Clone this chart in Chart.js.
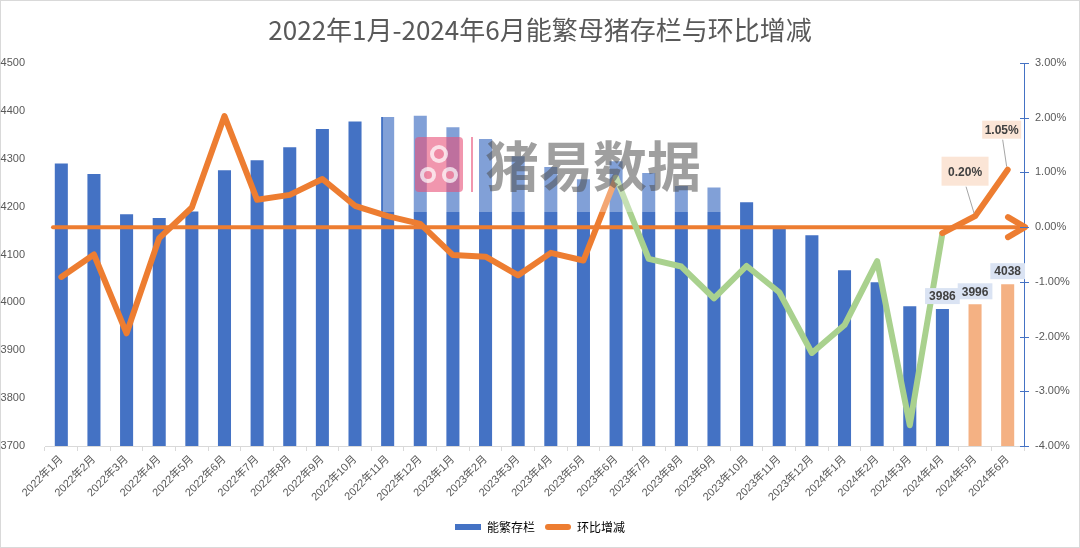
<!DOCTYPE html>
<html>
<head>
<meta charset="utf-8">
<title>能繁母猪存栏与环比增减</title>
<script src="https://cdn.jsdelivr.net/npm/chart.js@4.4.1/dist/chart.umd.min.js"></script>
<style>
  html, body { margin: 0; padding: 0; background: #fff; }
  #wrap { width: 1080px; height: 548px; }
</style>
</head>
<body>
<div id="wrap"><canvas id="chart" width="1080" height="548"></canvas></div>
<script>
// data
const months = [
    '2022年1月', '2022年2月', '2022年3月', '2022年4月', '2022年5月', '2022年6月',
    '2022年7月', '2022年8月', '2022年9月', '2022年10月', '2022年11月', '2022年12月',
    '2023年1月', '2023年2月', '2023年3月', '2023年4月', '2023年5月', '2023年6月',
    '2023年7月', '2023年8月', '2023年9月', '2023年10月', '2023年11月', '2023年12月',
    '2024年1月', '2024年2月', '2024年3月', '2024年4月', '2024年5月', '2024年6月'
];
const stock = [
    4290, 4268, 4184, 4176, 4190, 4276, 4297, 4324, 4362, 4378, 4387, 4390,
    4366, 4341, 4305, 4283, 4257, 4295, 4270, 4243, 4240, 4209, 4155, 4140,
    4067, 4042, 3992, 3986, 3996, 4038
];
const momChange = [
    -0.91, -0.50, -1.94, -0.20, 0.36, 2.03, 0.50, 0.59, 0.88, 0.39, 0.20, 0.06,
    -0.51, -0.54, -0.88, -0.47, -0.61, 0.90, -0.58, -0.72, -1.30, -0.71, -1.19, -2.30,
    -1.79, -0.62, -3.62, -0.11, 0.20, 1.05
];
const leftTicks = [3700, 4500, 100];   // min, max, step
const rightTicks = [-4, 3, 1];

const forecastFrom = 28;            // 2024年5月 onward drawn in light orange
const greenFrom = 17, greenTo = 27; // segment range of the green line
const stockLabelIdx = [27, 28, 29];
const pctLabelIdx = [28, 29];

const BLUE = '#4472C4', LIGHT_ORANGE = '#F4B183', ORANGE = '#ED7D31', GREEN = '#A9D18E';
const TEXT = '#595959';
const FONT = '"Liberation Sans", "Noto Sans CJK SC", sans-serif';
const CJK = '"Noto Sans CJK SC", sans-serif';

// where the hand-placed percent callouts sit relative to their point
const pctBox = {
    28: { dx: -10, dy: -45, w: 47, h: 29 },
    29: { dx: -6, dy: -40, w: 39, h: 18 }
};

function drawArrow(chart) {
    const ctx = chart.ctx, area = chart.chartArea;
    const y0 = chart.scales.yR.getPixelForValue(0);
    const tip = area.right + 1;
    ctx.save();
    ctx.strokeStyle = ORANGE;
    ctx.lineCap = 'round';
    ctx.lineJoin = 'round';
    ctx.lineWidth = 4;
    ctx.beginPath();
    ctx.moveTo(area.left + 8, y0);
    ctx.lineTo(tip - 2, y0);
    ctx.stroke();
    ctx.lineWidth = 6;
    ctx.beginPath();
    ctx.moveTo(tip - 17, y0 - 10);
    ctx.lineTo(tip, y0);
    ctx.lineTo(tip - 17, y0 + 10);
    ctx.stroke();
    ctx.restore();
}

function drawWatermark(ctx) {
    ctx.save();
    ctx.fillStyle = 'rgba(255,255,255,0.33)';
    ctx.fillRect(383, 95, 342, 117);

    ctx.fillStyle = 'rgba(232,80,120,0.6)';
    ctx.beginPath();
    ctx.roundRect(415, 137, 48, 55, 4);
    ctx.fill();
    ctx.fillStyle = 'rgba(255,255,255,0.7)';
    [[439, 154, 9], [428, 175, 8], [450, 175, 8]].forEach(c => {
        ctx.beginPath();
        ctx.arc(c[0], c[1], c[2], 0, Math.PI * 2);
        ctx.fill();
    });
    ctx.fillStyle = 'rgba(232,80,120,0.6)';
    [[439, 154, 5], [428, 175, 4], [450, 175, 4]].forEach(c => {
        ctx.beginPath();
        ctx.arc(c[0], c[1], c[2], 0, Math.PI * 2);
        ctx.fill();
    });
    ctx.fillRect(471, 137, 2, 55);

    ctx.font = 'bold 54px ' + CJK;
    ctx.fillStyle = 'rgba(80,80,80,0.55)';
    ctx.textAlign = 'left';
    ctx.textBaseline = 'middle';
    ctx.fillText('猪易数据', 485, 166);
    ctx.restore();
}

function drawLabels(chart) {
    const ctx = chart.ctx;
    const bars = chart.getDatasetMeta(0).data;
    const points = chart.getDatasetMeta(1).data;
    ctx.save();
    ctx.font = 'bold 12px ' + FONT;
    ctx.textAlign = 'center';
    ctx.textBaseline = 'middle';

    stockLabelIdx.forEach(i => {
        const text = String(stock[i]);
        const w = ctx.measureText(text).width + 8, h = 16;
        const bottom = bars[i].y - 5;
        ctx.fillStyle = '#DAE3F3';
        ctx.fillRect(bars[i].x - w / 2, bottom - h, w, h);
        ctx.fillStyle = '#404040';
        ctx.fillText(text, bars[i].x, bottom - h / 2 + 1);
    });

    pctLabelIdx.forEach(i => {
        const p = points[i], b = pctBox[i];
        const cx = p.x + b.dx, cy = p.y + b.dy;
        ctx.strokeStyle = '#A6A6A6';
        ctx.lineWidth = 1;
        ctx.beginPath();
        ctx.moveTo(cx + 1, cy + b.h / 2 + 1);
        ctx.lineTo(p.x - 1, p.y - 3);
        ctx.stroke();
        ctx.fillStyle = '#FBE5D6';
        ctx.fillRect(cx - b.w / 2, cy - b.h / 2, b.w, b.h);
        ctx.fillStyle = '#404040';
        ctx.fillText(momChange[i].toFixed(2) + '%', cx, cy + 1);
    });
    ctx.restore();
}

const decor = {
    id: 'decor',
    beforeDraw(chart) {
        const ctx = chart.ctx;
        ctx.save();
        ctx.fillStyle = '#fff';
        ctx.fillRect(0, 0, chart.width, chart.height);
        ctx.strokeStyle = '#D9D9D9';
        ctx.lineWidth = 1;
        ctx.strokeRect(0.5, 0.5, chart.width - 1, chart.height - 1);
        ctx.restore();
    },
    afterDatasetDraw(chart, args) {
        if (args.index === 0) drawArrow(chart);
    },
    afterDraw(chart) {
        const ctx = chart.ctx, yR = chart.scales.yR, x = chart.chartArea.right;
        ctx.save();
        ctx.strokeStyle = BLUE;
        ctx.lineWidth = 1;
        yR.ticks.forEach(t => {
            const y = Math.round(yR.getPixelForValue(t.value)) + 0.5;
            ctx.beginPath();
            ctx.moveTo(x - 4, y);
            ctx.lineTo(x + 5, y);
            ctx.stroke();
        });
        ctx.restore();
        drawWatermark(ctx);
        drawLabels(chart);
    }
};

new Chart(document.getElementById('chart').getContext('2d'), {
    data: {
        labels: months,
        datasets: [{
            type: 'bar',
            label: '能繁存栏',
            data: stock,
            yAxisID: 'yL',
            order: 2,
            backgroundColor: stock.map((v, i) => i >= forecastFrom ? LIGHT_ORANGE : BLUE),
            barPercentage: 0.4,
            categoryPercentage: 1
        }, {
            type: 'line',
            label: '环比增减',
            data: momChange,
            yAxisID: 'yR',
            order: 1,
            borderColor: ORANGE,
            borderWidth: 6,
            borderCapStyle: 'round',
            borderJoinStyle: 'round',
            pointRadius: 0,
            tension: 0,
            segment: {
                borderColor: c => (c.p0DataIndex >= greenFrom && c.p0DataIndex < greenTo) ? GREEN : ORANGE
            }
        }]
    },
    options: {
        responsive: false,
        animation: false,
        layout: { padding: { top: 0, bottom: 5, left: 0, right: 0 } },
        plugins: {
            title: {
                display: true,
                text: '2022年1月-2024年6月能繁母猪存栏与环比增减',
                color: TEXT,
                font: { family: CJK, size: 26, weight: 'normal' },
                padding: { top: 14.4, bottom: 17.4 }
            },
            legend: {
                position: 'bottom',
                labels: {
                    color: TEXT,
                    font: { family: CJK, size: 12 },
                    boxWidth: 26,
                    boxHeight: 6,
                    padding: 10,
                    generateLabels: () => [
                        { text: '能繁存栏', fillStyle: BLUE, strokeStyle: BLUE, lineWidth: 0, datasetIndex: 0 },
                        { text: '环比增减', fillStyle: ORANGE, strokeStyle: ORANGE, lineWidth: 0, datasetIndex: 1, borderRadius: 3 }
                    ]
                }
            },
            tooltip: { enabled: false }
        },
        scales: {
            x: {
                grid: { display: true, offset: true, drawOnChartArea: false, tickLength: 5, color: '#D9D9D9' },
                border: { display: true, color: '#D9D9D9' },
                ticks: { color: TEXT, font: { family: FONT, size: 11 }, minRotation: 45, maxRotation: 45, autoSkip: false, padding: 2 },
                afterFit: s => { s.height = 65; }
            },
            yL: {
                position: 'left',
                min: leftTicks[0],
                max: leftTicks[1],
                grid: { display: false },
                border: { display: false },
                ticks: {
                    stepSize: leftTicks[2],
                    color: TEXT,
                    font: { family: FONT, size: 11 },
                    padding: 12,
                    callback: v => String(v)
                },
                afterFit: s => { s.width = 45; }
            },
            yR: {
                position: 'right',
                min: rightTicks[0],
                max: rightTicks[1],
                grid: { display: false, drawTicks: false },
                border: { display: true, color: BLUE, width: 1 },
                ticks: {
                    stepSize: rightTicks[2],
                    color: TEXT,
                    font: { family: FONT, size: 11 },
                    padding: 11,
                    callback: v => v.toFixed(2) + '%'
                },
                afterFit: s => { s.width = 56; }
            }
        }
    },
    plugins: [decor]
});
</script>
</body>
</html>
